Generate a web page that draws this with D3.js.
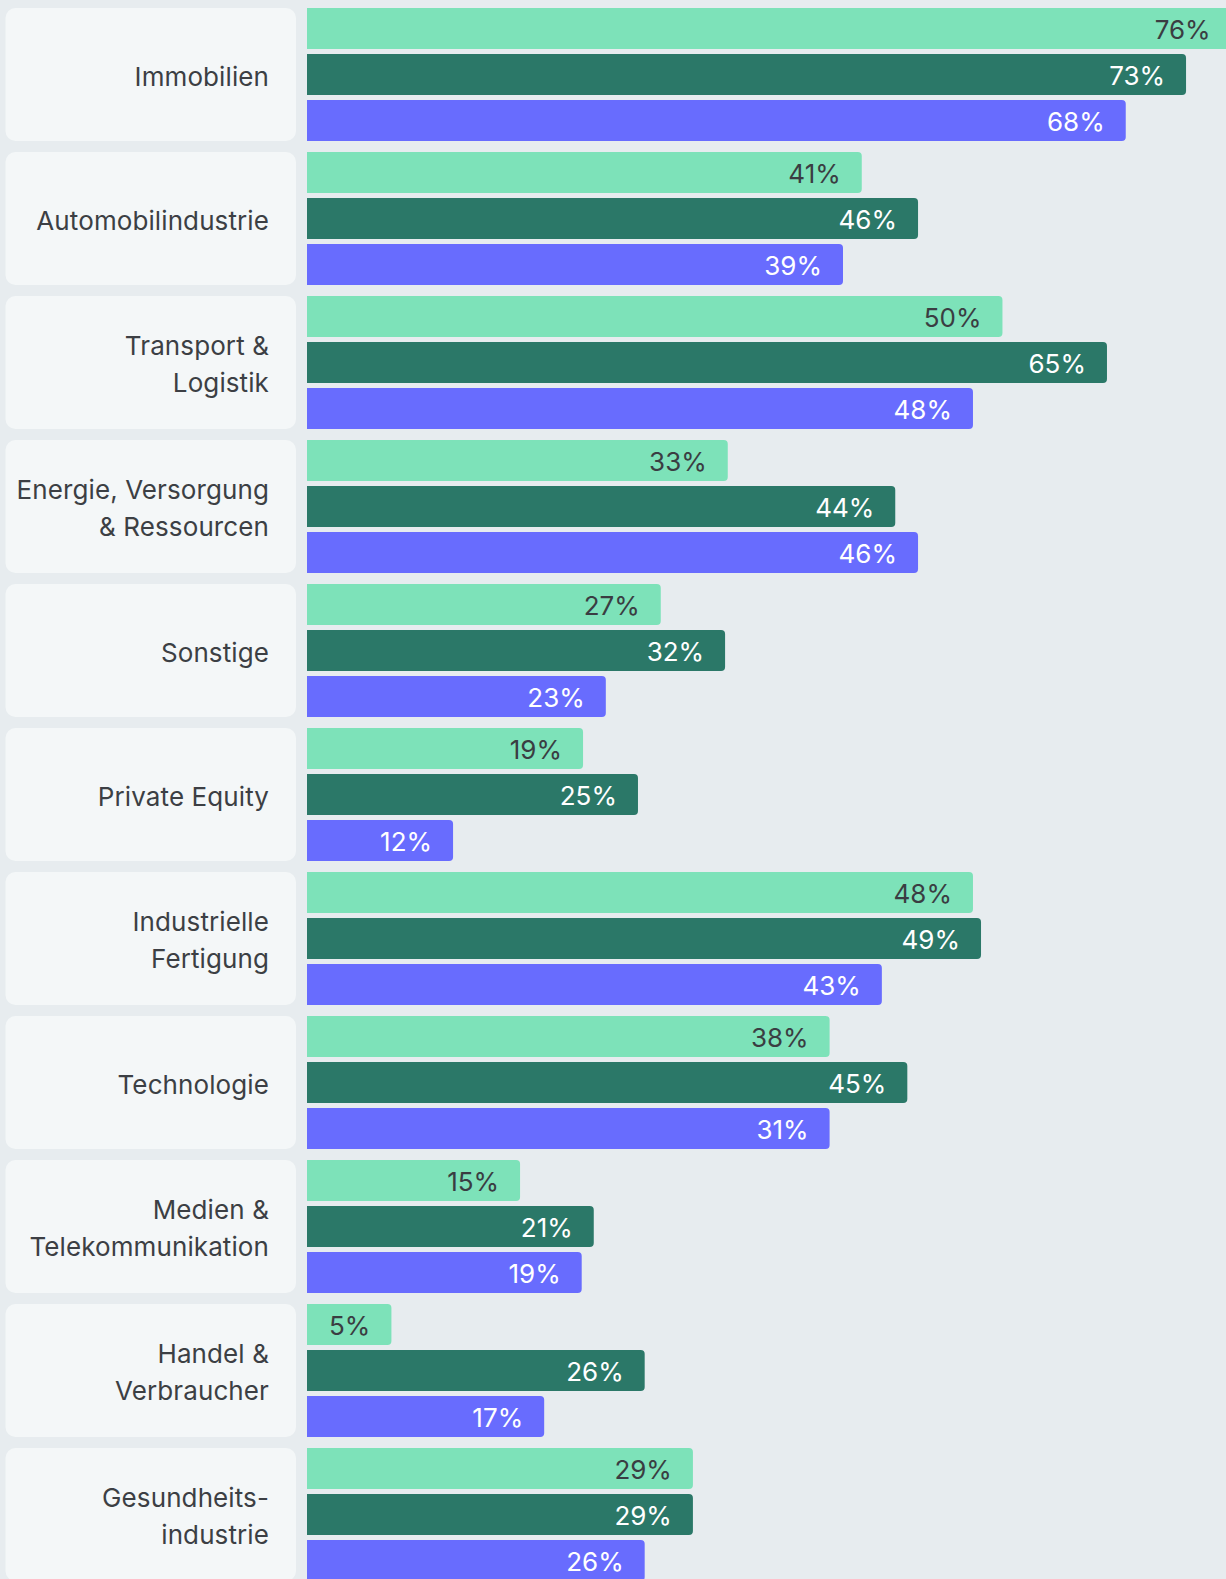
<!DOCTYPE html>
<html>
<head>
<meta charset="utf-8">
<script src="https://d3js.org/d3.v7.min.js"></script>
<style>
  body { margin: 0; background: #e7ecef; overflow: hidden; }
  svg { display: block; font-family: Inter, "Noto Sans", sans-serif; }
  .cat-box { fill: #f4f7f8; }
  .cat-label { fill: #3c3f44; font-size: 26px; letter-spacing: 0.1px; }
  .val { font-size: 26px; }
</style>
</head>
<body>
<svg width="1226" height="1579"></svg>
<script>
// categories (multi-line labels as the picture breaks them)
var categories = [
  ["Immobilien"],
  ["Automobilindustrie"],
  ["Transport &", "Logistik"],
  ["Energie, Versorgung", "& Ressourcen"],
  ["Sonstige"],
  ["Private Equity"],
  ["Industrielle", "Fertigung"],
  ["Technologie"],
  ["Medien &", "Telekommunikation"],
  ["Handel &", "Verbraucher"],
  ["Gesundheits-", "industrie"]
];

var seriesNames = ["mint", "teal", "violet"];

// printed percentages
var mintValues   = [76, 41, 50, 33, 27, 19, 48, 38, 15, 5, 29];
var tealValues   = [73, 46, 65, 44, 32, 25, 49, 45, 21, 26, 29];
var violetValues = [68, 39, 48, 46, 23, 12, 43, 31, 19, 17, 26];

// bar lengths as drawn in the picture (they do not follow the labels exactly)
var mintLengths   = [69.0, 41.4, 51.9, 31.4, 26.4, 20.6, 49.7, 39.0, 15.9, 6.3, 28.8];
var tealLengths   = [65.6, 45.6, 59.7, 43.9, 31.2, 24.7, 50.3, 44.8, 21.4, 25.2, 28.8];
var violetLengths = [61.1, 40.0, 49.7, 45.6, 22.3, 10.9, 42.9, 39.0, 20.5, 17.7, 25.2];

var colors = {mint: "#7de2b9", teal: "#2b7868", violet: "#686cfe"};
var textColors = {mint: "#3a3d42", teal: "#ffffff", violet: "#ffffff"};

var svg = d3.select("svg");

var y = d3.scaleBand()
  .domain(d3.range(categories.length))
  .range([8, 8 + 144 * categories.length - 11])
  .paddingInner(11 / 144)
  .paddingOuter(0);

var ySub = d3.scaleBand()
  .domain(seriesNames)
  .range([0, y.bandwidth()])
  .paddingInner(5 / 46)
  .paddingOuter(0);

var x = d3.scaleLinear().domain([0, 100]).range([307, 307 + 1340]);

var rows = categories.map(function(c, i) {
  return {
    label: c,
    bars: [
      {s: "mint", v: mintValues[i], len: mintLengths[i]},
      {s: "teal", v: tealValues[i], len: tealLengths[i]},
      {s: "violet", v: violetValues[i], len: violetLengths[i]}
    ]
  };
});

var group = svg.selectAll("g.row")
  .data(rows)
  .enter().append("g")
  .attr("class", "row")
  .attr("transform", function(d, i) { return "translate(0," + y(i) + ")"; });

// category box
group.append("rect")
  .attr("class", "cat-box")
  .attr("x", 5.5)
  .attr("width", 290.5)
  .attr("height", y.bandwidth())
  .attr("rx", 10);

var lineH = 37.5;
group.append("text")
  .attr("class", "cat-label")
  .attr("text-anchor", "end")
  .attr("x", 269)
  .selectAll("tspan")
  .data(function(d) { return d.label.map(function(t, j) { return {t: t, j: j, n: d.label.length}; }); })
  .enter().append("tspan")
  .attr("x", 269)
  .attr("y", function(d) { return y.bandwidth() / 2 + 11 + (d.j - (d.n - 1) / 2) * lineH; })
  .text(function(d) { return d.t; });

function barPath(x0, x1, h, r) {
  r = Math.min(r, (x1 - x0) / 2);
  return "M" + x0 + ",0H" + (x1 - r) + "A" + r + "," + r + " 0 0 1 " + x1 + "," + r +
    "V" + (h - r) + "A" + r + "," + r + " 0 0 1 " + (x1 - r) + "," + h + "H" + x0 + "Z";
}

var bar = group.selectAll("g.bar")
  .data(function(d) { return d.bars; })
  .enter().append("g")
  .attr("class", "bar")
  .attr("transform", function(d) { return "translate(0," + ySub(d.s) + ")"; });

bar.append("path")
  .attr("d", function(d) { return barPath(x(0), x(d.len), ySub.bandwidth(), 4); })
  .attr("fill", function(d) { return colors[d.s]; });

bar.append("text")
  .attr("class", "val")
  .attr("text-anchor", "end")
  .attr("x", function(d) { return x(d.len) - 21; })
  .attr("y", ySub.bandwidth() / 2 + 10.5)
  .attr("fill", function(d) { return textColors[d.s]; })
  .text(function(d) { return d.v + "%"; });
</script>
</body>
</html>
